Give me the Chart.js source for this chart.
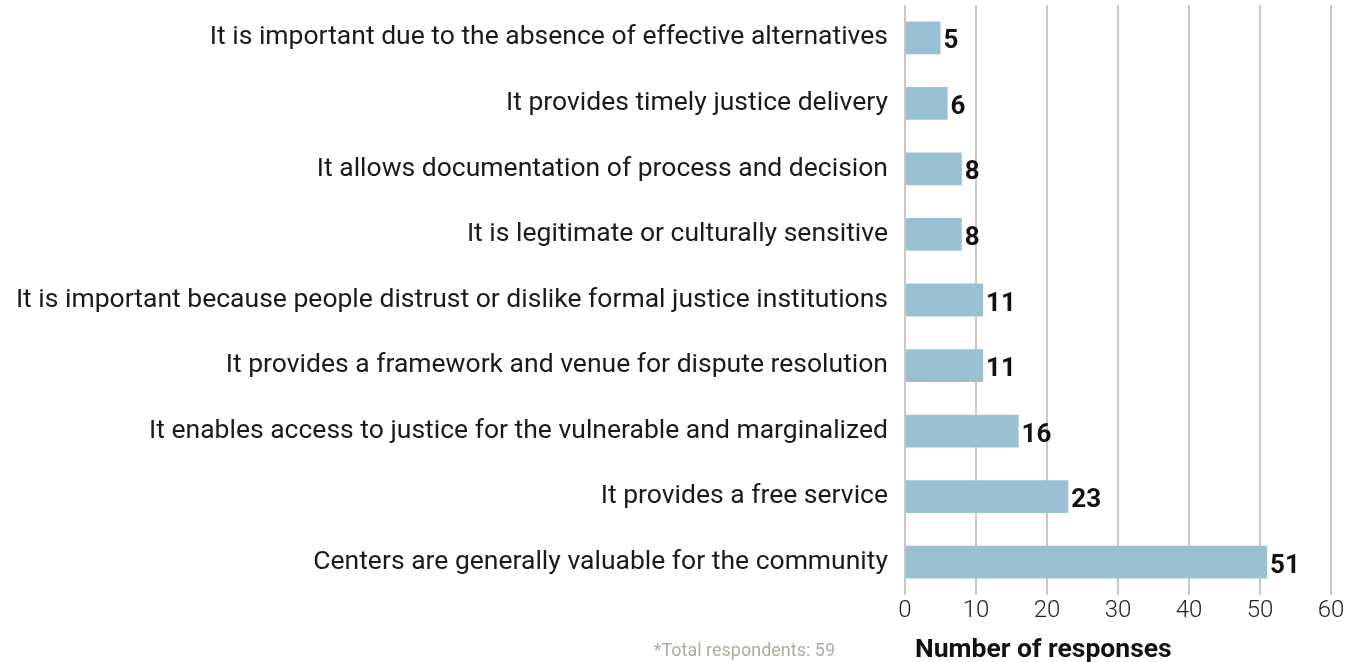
<!DOCTYPE html>
<html>
<head>
<meta charset="utf-8">
<script src="https://cdn.jsdelivr.net/npm/chart.js@4/dist/chart.umd.min.js"></script>
<style>
    html, body { margin: 0; padding: 0; background: #fff; }
    #wrap { width: 1358px; height: 662px; position: relative; }
</style>
</head>
<body>
<div id="wrap"><canvas id="reasonsChart"></canvas></div>
<script>
const reasons = [
    "It is important due to the absence of effective alternatives",
    "It provides timely justice delivery",
    "It allows documentation of process and decision",
    "It is legitimate or culturally sensitive",
    "It is important because people distrust or dislike formal justice institutions",
    "It provides a framework and venue for dispute resolution",
    "It enables access to justice for the vulnerable and marginalized",
    "It provides a free service",
    "Centers are generally valuable for the community"
];
const responses = [5, 6, 8, 8, 11, 11, 16, 23, 51];
const xTicks = [0, 10, 20, 30, 40, 50, 60];
const axisTitle = "Number of responses";
const footnote = "*Total respondents: 59";

const FONT = "Roboto, 'Liberation Sans', sans-serif";

// value labels at the end of each bar, plus the footnote and axis title
const barLabels = {
    id: "barLabels",
    afterDatasetsDraw(chart) {
        const ctx = chart.ctx;
        const meta = chart.getDatasetMeta(0);
        ctx.save();
        ctx.font = "bold 26px " + FONT;
        ctx.fillStyle = "#111";
        ctx.textAlign = "left";
        ctx.textBaseline = "middle";
        meta.data.forEach((bar, i) => {
            ctx.fillText(String(responses[i]), bar.x + 3, bar.y + 4);
        });

        ctx.font = "bold 26.5px " + FONT;
        ctx.fillStyle = "#111";
        ctx.fillText(axisTitle, chart.chartArea.left + 10, 650);

        ctx.font = "18px " + FONT;
        ctx.fillStyle = "#b0aa9f";
        ctx.textAlign = "right";
        ctx.fillText(footnote, 835, 651);
        ctx.restore();
    }
};

new Chart(document.getElementById("reasonsChart"), {
    type: "bar",
    data: {
        labels: reasons,
        datasets: [{
            data: responses,
            backgroundColor: "#99c1d3",
            barPercentage: 0.5,
            categoryPercentage: 1.0
        }]
    },
    options: {
        indexAxis: "y",
        responsive: true,
        maintainAspectRatio: false,
        animation: false,
        layout: { padding: { top: 5, right: 27, bottom: 0, left: 0 } },
        plugins: {
            legend: { display: false },
            tooltip: { enabled: false }
        },
        scales: {
            x: {
                min: 0,
                max: 60,
                afterBuildTicks: (scale) => {
                    scale.ticks = xTicks.map((v) => ({ value: v }));
                },
                afterFit: (scale) => {
                    scale.height = 67;
                    scale.paddingLeft = 0;
                    scale.paddingRight = 0;
                },
                grid: {
                    color: "#cdc8bf",
                    lineWidth: 2,
                    drawTicks: false
                },
                border: { display: false },
                ticks: {
                    padding: 2,
                    color: "#222",
                    font: { family: FONT, size: 24, weight: 300 }
                }
            },
            y: {
                afterFit: (scale) => {
                    scale.width = 905;
                    scale.paddingTop = 0;
                    scale.paddingBottom = 0;
                },
                grid: { display: false, drawTicks: false },
                border: { display: false },
                ticks: {
                    padding: 17,
                    color: "#1a1a1a",
                    font: { family: FONT, size: 26.5 }
                }
            }
        }
    },
    plugins: [barLabels]
});
</script>
</body>
</html>
